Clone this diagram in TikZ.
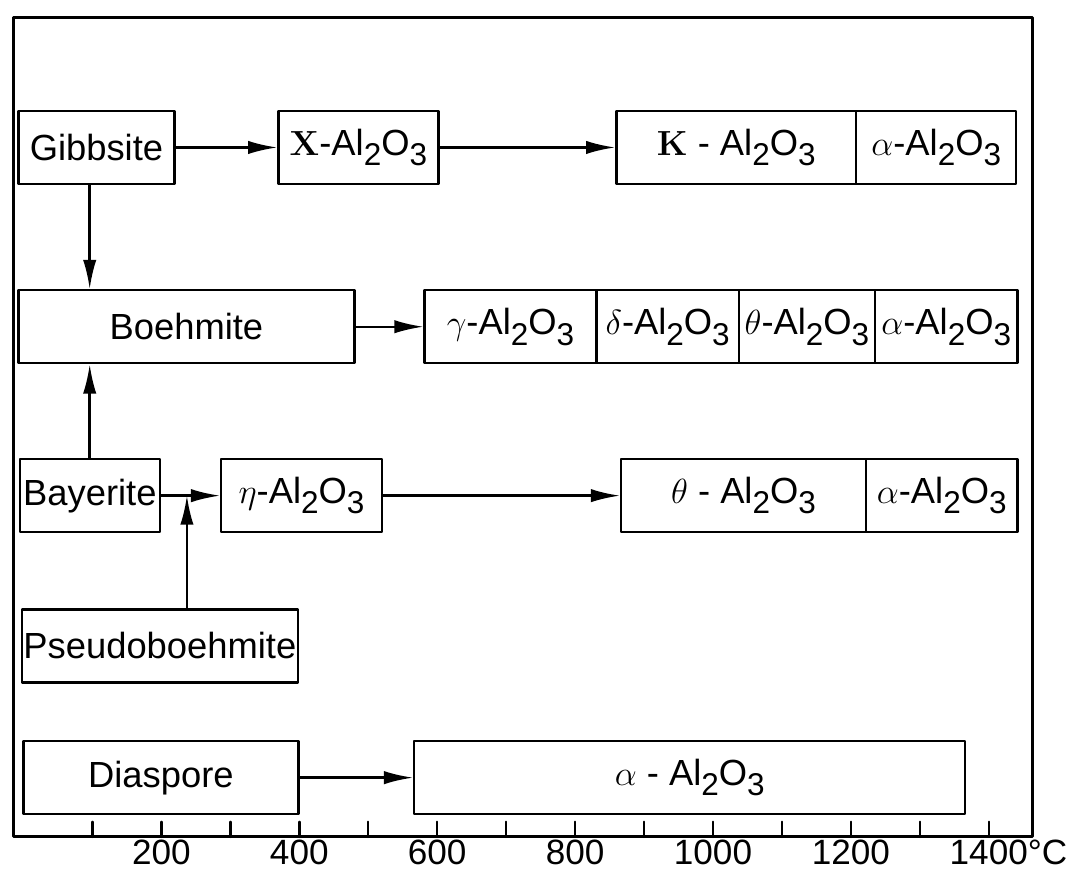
\documentclass[tikz,border=0pt]{standalone}
\usepackage[no-math]{fontspec}
\setmainfont{Liberation Sans}
\usetikzlibrary{arrows.meta}
\newcommand{\ind}[1]{\raisebox{-0.55ex}{\fontsize{13}{13}\selectfont #1}}
\newcommand{\alo}{-Al\ind{2}O\ind{3}}
\newcommand{\alos}{ - Al\ind{2}O\ind{3}}
\tikzset{hop/.style={draw, line width=1pt, minimum height=1.06cm, inner sep=0pt, anchor=west}}
\begin{document}
\begin{tikzpicture}[>={Latex[length=12pt,width=5.5pt]}, line join=round, line cap=round, line width=1pt,
	font=\fontsize{15}{18}\selectfont]
	\useasboundingbox (-0.341,-0.522) rectangle (15.323,12.139);
	\def\ra{10} \def\rb{7.4} \def\rc{4.95} \def\rd{2.77} \def\re{0.86} % cac hang
	% khung va truc nhiet do
	\draw[line width=1.2pt] (-0.15,0) rectangle (14.64,11.88);
	\foreach \t in {1,...,14} \draw (\t,0)--(\t,0.22);
	\foreach \t in {2,4,...,12} \node[font=\fontsize{14.5}{16}\selectfont] at (\t,-0.23) {\t00};
	\node[font=\fontsize{14.5}{16}\selectfont] at (14,-0.23) {1400\rlap{°C}};
	% hang 1
	\node[hop, minimum width=2.26cm] (gibb) at (-0.09,\ra) {Gibbsite};
	\node[hop, minimum width=2.32cm] (chi) at (3.68,\ra) {$\mathbf{X}$\alo};
	\node[hop, minimum width=3.48cm] (kap) at (8.58,\ra) {$\mathbf{K}$\alos\hspace{0.6cm}};
	\node[hop, minimum width=2.32cm] (alfa) at (12.06,\ra) {$\alpha$\alo};
	% hang 2
	\node[hop, minimum width=4.87cm] (boeh) at (-0.09,\rb) {Boehmite};
	\node[hop, minimum width=2.49cm] (gam) at (5.80,\rb) {$\gamma$\alo};
	\node[hop, minimum width=2.07cm] (del) at (8.29,\rb) {$\delta$\alo};
	\node[hop, minimum width=1.97cm] (theb) at (10.36,\rb) {$\theta$\alo};
	\node[hop, minimum width=2.07cm] (alfb) at (12.33,\rb) {$\alpha$\alo};
	% hang 3
	\node[hop, minimum width=2.03cm] (bay) at (-0.07,\rc) {Bayerite};
	\node[hop, minimum width=2.33cm] (eta) at (2.85,\rc) {$\eta$\alo};
	\node[hop, minimum width=3.55cm] (thec) at (8.65,\rc) {$\theta$\alos\hspace{0.6cm}};
	\node[hop, minimum width=2.20cm] (alfc) at (12.20,\rc) {$\alpha$\alo};
	\node[hop, minimum width=4.0cm] (pseu) at (-0.04,\rd) {Pseudoboehmite};
	\coordinate (junc) at (2.37,\rc);
	\coordinate (vx) at (0.96,0);
	% hang 4
	\node[hop, minimum width=3.99cm] (dia) at (-0.02,\re) {Diaspore};
	\node[hop, minimum width=7.99cm] (alfd) at (5.65,\re) {$\alpha$\alos};
	% cac mui ten
	\draw[->] (gibb)--(chi);
	\draw[->] (chi)--(kap);
	\draw[->] (gibb.south-|vx)--(boeh.north-|vx);
	\draw[->] (bay.north-|vx)--(boeh.south-|vx);
	\draw[->] (boeh)--(gam);
	\draw[->] (bay)--(eta);
	\draw[->] (pseu.north-|junc)--(junc);
	\draw[->] (eta)--(thec);
	\draw[->] (dia)--(alfd);
\end{tikzpicture}
\end{document}
